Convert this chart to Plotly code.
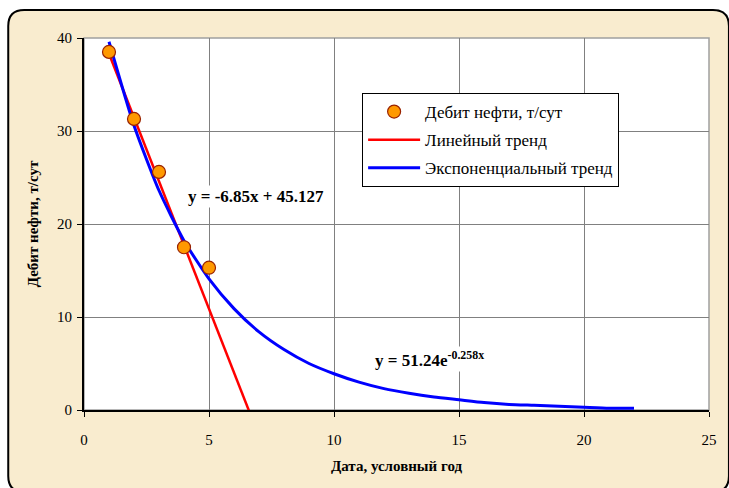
import plotly.graph_objects as go

# Data
years = [1, 2, 3, 4, 5]
oil_rate = [38.5, 31.3, 25.6, 17.5, 15.3]

lin_x = [1, 6.66]
lin_y = [38.3, -0.5]

exp_x = list(range(1, 23))
exp_y = [39.6, 30.6, 23.6, 18.2, 14.1, 10.9, 8.4, 6.5, 5.0, 3.9, 3.0, 2.3,
         1.8, 1.4, 1.1, 0.8, 0.6, 0.5, 0.4, 0.3, 0.2, 0.2]

x_ticks = [0, 5, 10, 15, 20, 25]
y_ticks = [0, 10, 20, 30, 40]

FONT = "'Times New Roman', 'Liberation Serif', 'DejaVu Serif', serif"

W, H = 729, 488
L, R, T, B = 84, 711, 38, 410
pw, ph = R - L, B - T


def px(x):
    return (x - L) / pw


def py(y):
    return (B - y) / ph


fig = go.Figure()
fig.add_trace(go.Scatter(x=lin_x, y=lin_y, mode="lines", name="Линейный тренд",
                         line=dict(color="#FF0000", width=2.5), legendgroup="b", legendrank=2))
fig.add_trace(go.Scatter(x=exp_x, y=exp_y, mode="lines", name="Экспоненциальный тренд",
                         line=dict(color="#0000FF", width=3, shape="spline", smoothing=0.6),
                         legendgroup="c", legendrank=3))
fig.add_trace(go.Scatter(x=years, y=oil_rate, mode="markers", name="Дебит нефти, т/сут",
                         marker=dict(size=13, color="#FF9900", line=dict(color="#992200", width=1.2)),
                         legendgroup="a", legendrank=1))

# rounded frame
x0, y0, x1, y1, r = 8, 10, 731, 492, 16
path = (f"M {px(x0+r)},{py(y0)} L {px(x1-r)},{py(y0)} "
        f"Q {px(x1)},{py(y0)} {px(x1)},{py(y0+r)} L {px(x1)},{py(y1-r)} "
        f"Q {px(x1)},{py(y1)} {px(x1-r)},{py(y1)} L {px(x0+r)},{py(y1)} "
        f"Q {px(x0)},{py(y1)} {px(x0)},{py(y1-r)} L {px(x0)},{py(y0+r)} "
        f"Q {px(x0)},{py(y0)} {px(x0+r)},{py(y0)} Z")
fig.add_shape(type="path", path=path, xref="paper", yref="paper",
              fillcolor="#F9ECCF", line=dict(color="black", width=2), layer="below")
fig.add_shape(type="rect", xref="paper", yref="paper", x0=0, y0=0, x1=1, y1=1,
              fillcolor="white", line=dict(color="#A0A0A0", width=1.5), layer="below")

fig.add_annotation(x=6.86, y=23.0, text="<b>y = -6.85x + 45.127</b>", showarrow=False,
                   font=dict(family=FONT, size=17, color="black"), bgcolor="white")
fig.add_annotation(x=11.55, y=5.5, text="<b>y = 51.24e<sup>-0.258x</sup></b>", showarrow=False,
                   xanchor="left", font=dict(family=FONT, size=17, color="black"), bgcolor="white")

fig.update_layout(
    width=W, height=H,
    margin=dict(l=L, r=W - R, t=T, b=H - B),
    paper_bgcolor="white", plot_bgcolor="white",
    font=dict(family=FONT, size=15, color="black"),
    showlegend=True,
    legend=dict(x=px(363), y=py(93), xanchor="left", yanchor="top",
                bgcolor="white", bordercolor="black", borderwidth=1,
                font=dict(family=FONT, size=17), tracegroupgap=3, itemwidth=52,
                traceorder="grouped"),
    xaxis=dict(range=[0, 25], tickvals=x_ticks, ticks="outside", ticklen=5, tickcolor="black",
               showline=True, linecolor="black", linewidth=2, gridcolor="#808080", gridwidth=1,
               zeroline=False, ticklabelstandoff=10,
               title=dict(text="<b>Дата, условный год</b>", font=dict(family=FONT, size=15), standoff=13)),
    yaxis=dict(range=[0, 40], tickvals=y_ticks, ticks="outside", ticklen=5, tickcolor="black",
               showline=True, linecolor="black", linewidth=2, gridcolor="#808080", gridwidth=1,
               zeroline=False, ticklabelstandoff=2,
               title=dict(text="<b>Дебит нефти, т/сут</b>", font=dict(family=FONT, size=15), standoff=15)),
)

fig.write_html("out.html")
